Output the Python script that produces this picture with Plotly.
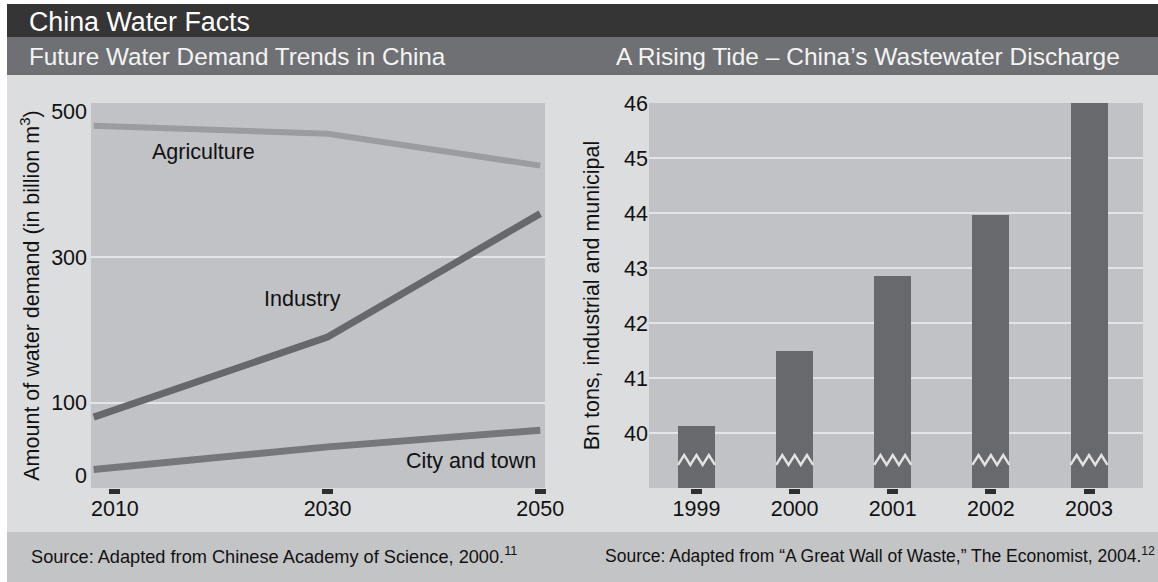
import numpy as np
import plotly.graph_objects as go

W, H = 1158, 582
FONT = "Liberation Sans, Arial, Helvetica, sans-serif"

# ---------------- data: left chart (billion m3) ----------------
line_years = [2008, 2030, 2050]
agriculture = [481, 470, 426]
industry = [80, 190, 360]
city_town = [8, 39, 62]
left_xticks = [2010, 2030, 2050]
left_yticks = [0, 100, 300, 500]
left_grid = [100, 300]

# ---------------- data: right chart (bn tons) ----------------
bar_years = [1999, 2000, 2001, 2002, 2003]
discharge = [40.13, 41.5, 42.85, 43.96, 46.0]
right_yticks = [40, 41, 42, 43, 44, 45, 46]
right_grid = [40, 41, 42, 43, 44, 45]

# ---------------- style ----------------
BAR_W = 0.377
BREAK_LEVEL = 39.51
BREAK_AMP = 0.09
PLOT_BG = "#c1c2c5"
PANEL_BG = "#dcdddf"
GRID = "#e3e4e6"


def px(x):
    return x / W


def py(y):
    return 1 - y / H


fig = go.Figure()

# Left chart lines
fig.add_trace(go.Scatter(x=line_years, y=agriculture, mode="lines",
                         line=dict(color="#9b9c9f", width=6),
                         xaxis="x", yaxis="y", hoverinfo="skip"))
fig.add_trace(go.Scatter(x=line_years, y=industry, mode="lines",
                         line=dict(color="#67686b", width=7),
                         xaxis="x", yaxis="y", hoverinfo="skip"))
fig.add_trace(go.Scatter(x=line_years, y=city_town, mode="lines",
                         line=dict(color="#76777a", width=7),
                         xaxis="x", yaxis="y", hoverinfo="skip"))

# Right chart bars
fig.add_trace(go.Bar(x=bar_years, y=discharge, width=BAR_W,
                     marker=dict(color="#68696c", line=dict(width=0)),
                     xaxis="x2", yaxis="y2", hoverinfo="skip"))

# Axis-break zigzags across bars
zx, zy = [], []
pattern = np.array([-1, 1, -1, 1, -1, 1, -1])
for yr in bar_years:
    xs = yr + np.linspace(-0.5, 0.5, 7) * BAR_W
    ys = BREAK_LEVEL + BREAK_AMP * pattern
    zx += list(xs) + [None]
    zy += list(ys) + [None]
fig.add_trace(go.Scatter(x=zx, y=zy, mode="lines",
                         line=dict(color="#e2e2e4", width=2.5),
                         xaxis="x2", yaxis="y2", hoverinfo="skip"))

tickfont = dict(family=FONT, size=21.5, color="#111111")

fig.update_layout(
    width=W, height=H, autosize=False,
    margin=dict(l=0, r=0, t=0, b=0),
    paper_bgcolor=PANEL_BG, plot_bgcolor=PLOT_BG,
    showlegend=False, bargap=0,
    font=dict(family=FONT),
    xaxis=dict(domain=[px(91), px(545)], range=[2007.75, 2050.45],
               tickvals=left_xticks, ticks="outside", ticklen=5, tickwidth=11,
               tickcolor="#2f2f2f", showgrid=False, zeroline=False, showline=False,
               tickfont=tickfont, anchor="y", automargin=False, fixedrange=True,
               ticklabelstandoff=-4),
    yaxis=dict(domain=[py(488), py(103)], range=[-17.6, 512.2],
               tickvals=left_yticks, ticks="", showgrid=False, zeroline=False,
               showline=False, tickfont=tickfont, anchor="x", automargin=False,
               ticklabelstandoff=3,
               minor=dict(tickvals=left_grid, showgrid=True, gridcolor=GRID,
                          gridwidth=2, ticks=""),
               title=dict(text="Amount of water demand (in billion m<sup>3</sup>)",
                          font=dict(family=FONT, size=21.5, color="#111111"),
                          standoff=5)),
    xaxis2=dict(domain=[px(649), px(1143)], range=[1998.516, 2003.55],
                tickvals=bar_years, ticks="outside", ticklen=5, tickwidth=11,
                tickcolor="#2f2f2f", showgrid=False, zeroline=False, showline=False,
                tickfont=tickfont, anchor="y2", automargin=False, fixedrange=True,
                ticklabelstandoff=-4),
    yaxis2=dict(domain=[py(488), py(103)], range=[39, 46],
                tickvals=right_yticks, ticks="", showgrid=False, zeroline=False,
                showline=False, tickfont=tickfont, anchor="x2", automargin=False,
                minor=dict(tickvals=right_grid, showgrid=True, gridcolor=GRID,
                           gridwidth=2, ticks=""),
                title=dict(text="Bn tons, industrial and municipal",
                           font=dict(family=FONT, size=21.5, color="#111111"),
                           standoff=18)),
)

# Background panels (paper shapes)
shapes = [
    dict(type="rect", xref="paper", yref="paper", x0=0, x1=1, y0=py(4), y1=1,
         fillcolor="#ffffff", line=dict(width=0), layer="below"),
    dict(type="rect", xref="paper", yref="paper", x0=0, x1=px(7), y0=0, y1=1,
         fillcolor="#ffffff", line=dict(width=0), layer="below"),
    dict(type="rect", xref="paper", yref="paper", x0=px(7), x1=1, y0=py(37), y1=py(4),
         fillcolor="#353535", line=dict(width=0), layer="below"),
    dict(type="rect", xref="paper", yref="paper", x0=px(7), x1=1, y0=py(75), y1=py(37),
         fillcolor="#6f7073", line=dict(width=0), layer="below"),
    dict(type="rect", xref="paper", yref="paper", x0=px(7), x1=1, y0=0, y1=py(532),
         fillcolor="#c3c4c6", line=dict(width=0), layer="below"),
]
fig.update_layout(shapes=shapes)

ann = []
# Header texts
ann.append(dict(text="China Water Facts", xref="paper", yref="paper",
                x=px(27), y=py(22), xanchor="left", yanchor="middle", showarrow=False,
                font=dict(family=FONT, size=26.8, color="#ffffff")))
ann.append(dict(text="Future Water Demand Trends in China", xref="paper", yref="paper",
                x=px(27), y=py(57), xanchor="left", yanchor="middle", showarrow=False,
                font=dict(family=FONT, size=24.3, color="#f4f4f4")))
ann.append(dict(text="A Rising Tide \u2013 China\u2019s Wastewater Discharge", xref="paper",
                yref="paper", x=px(614), y=py(57), xanchor="left", yanchor="middle",
                showarrow=False, font=dict(family=FONT, size=24.5, color="#f4f4f4")))
# Sources
ann.append(dict(text="Source: Adapted from Chinese Academy of Science, 2000.<sup>11</sup>",
                xref="paper", yref="paper", x=px(29), y=py(555), xanchor="left",
                yanchor="middle", showarrow=False,
                font=dict(family=FONT, size=18.2, color="#111111")))
ann.append(dict(text="Source: Adapted from \u201cA Great Wall of Waste,\u201d The Economist, 2004.<sup>12</sup>",
                xref="paper", yref="paper", x=px(603), y=py(555), xanchor="left",
                yanchor="middle", showarrow=False,
                font=dict(family=FONT, size=17.5, color="#111111")))
# Series labels
lab_font = dict(family=FONT, size=21.5, color="#111111")
ann.append(dict(text="Agriculture", xref="x", yref="y", x=2018.3, y=445,
                showarrow=False, font=lab_font))
ann.append(dict(text="Industry", xref="x", yref="y", x=2027.6, y=242,
                showarrow=False, font=lab_font))
ann.append(dict(text="City and town", xref="x", yref="y", x=2043.5, y=20,
                showarrow=False, font=lab_font))
fig.update_layout(annotations=ann)

fig.write_html("out.html")
